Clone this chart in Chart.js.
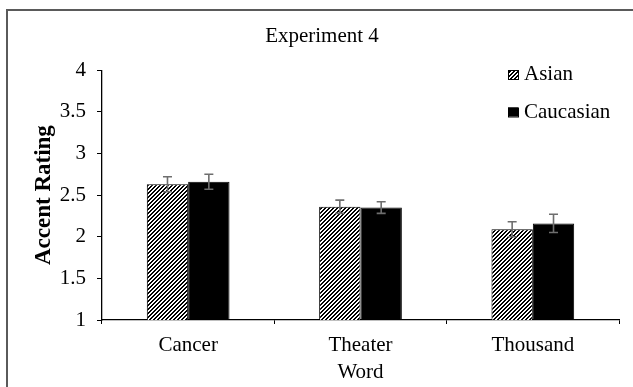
<!DOCTYPE html>
<html>
<head>
<meta charset="utf-8">
<script src="https://cdn.jsdelivr.net/npm/chart.js@4/dist/chart.umd.min.js"></script>
<style>
  html, body { margin: 0; padding: 0; background: #fff; overflow: hidden; }
  #wrap { position: relative; width: 633px; height: 387px; }
  #frame { position: absolute; left: 6px; top: 9px; width: 700px; height: 500px;
           border-top: 2px solid #5a5a5a; border-left: 2px solid #5a5a5a; }
  #chart { position: absolute; left: 0; top: 0; }
</style>
</head>
<body>
<div id="wrap">
  <div id="frame"></div>
  <canvas id="chart" width="633" height="387"></canvas>
</div>
<script>
// Mean accent ratings per word, with standard errors
const words = ['Cancer', 'Theater', 'Thousand'];
const asianMeans = [2.63, 2.36, 2.09];
const asianErrors = [0.09, 0.08, 0.09];
const caucasianMeans = [2.66, 2.35, 2.16];
const caucasianErrors = [0.09, 0.07, 0.11];
const yTicks = [1, 1.5, 2, 2.5, 3, 3.5, 4];
const yTickLabels = ['1', '1.5', '2', '2.5', '3', '3.5', '4'];

const SERIF = '"Liberation Serif", "Times New Roman", serif';

// Diagonal black/white hatch used for the Asian bars
function makeHatch() {
  const tile = document.createElement('canvas');
  tile.width = 4; tile.height = 4;
  const tctx = tile.getContext('2d');
  const img = tctx.createImageData(4, 4);
  for (let y = 0; y < 4; y++) {
    for (let x = 0; x < 4; x++) {
      const dark = ((x + y) % 4) < 2;
      const i = (y * 4 + x) * 4;
      const v = dark ? 0 : 255;
      img.data[i] = v; img.data[i + 1] = v; img.data[i + 2] = v; img.data[i + 3] = 255;
    }
  }
  tctx.putImageData(img, 0, 0);
  return document.getElementById('chart').getContext('2d').createPattern(tile, 'repeat');
}
const hatch = makeHatch();

const errorSets = [asianErrors, caucasianErrors];

// Error bars with caps, drawn over each bar
const errorBarPlugin = {
  id: 'errorBars',
  afterDatasetsDraw(chart) {
    const ctx = chart.ctx;
    const yScale = chart.scales.y;
    ctx.save();
    ctx.strokeStyle = '#6e6e6e';
    ctx.lineWidth = 1.6;
    chart.data.datasets.forEach((ds, di) => {
      const meta = chart.getDatasetMeta(di);
      meta.data.forEach((bar, i) => {
        const v = ds.data[i];
        const e = errorSets[di][i];
        const yTop = yScale.getPixelForValue(v + e);
        const yBot = yScale.getPixelForValue(v - e);
        const x = bar.x;
        const cap = 4.5;
        ctx.beginPath();
        ctx.moveTo(x, yTop); ctx.lineTo(x, yBot);
        ctx.moveTo(x - cap, yTop); ctx.lineTo(x + cap, yTop);
        ctx.moveTo(x - cap, yBot); ctx.lineTo(x + cap, yBot);
        ctx.stroke();
      });
    });
    ctx.restore();
  }
};

// Legend placed inside the upper right of the plot
const insideLegendPlugin = {
  id: 'insideLegend',
  afterDraw(chart) {
    const ctx = chart.ctx;
    ctx.save();
    ctx.font = '21px ' + SERIF;
    ctx.textBaseline = 'middle';
    ctx.textAlign = 'left';
    const x0 = 508;
    const rows = [74.5, 112];
    chart.data.datasets.forEach((ds, di) => {
      const cy = rows[di];
      ctx.fillStyle = ds.backgroundColor;
      ctx.fillRect(x0, cy - 4.5, 10, 9);
      ctx.strokeStyle = '#000';
      ctx.lineWidth = 1;
      ctx.strokeRect(x0 + 0.5, cy - 4.5 + 0.5, 10, 9);
      ctx.fillStyle = '#000';
      ctx.fillText(ds.label, x0 + 16, cy);
    });
    ctx.restore();
  }
};

new Chart(document.getElementById('chart'), {
  type: 'bar',
  data: {
    labels: words,
    datasets: [
      { label: 'Asian', data: asianMeans, backgroundColor: hatch,
        borderColor: '#000', borderWidth: 1, borderSkipped: false },
      { label: 'Caucasian', data: caucasianMeans, backgroundColor: '#000',
        borderColor: '#000', borderWidth: 1, borderSkipped: false }
    ]
  },
  options: {
    responsive: false,
    animation: false,
    events: [],
    layout: { padding: { left: 25, right: 14, top: 0, bottom: 0 } },
    datasets: { bar: { categoryPercentage: 0.48, barPercentage: 1.0 } },
    plugins: {
      legend: { display: false },
      tooltip: { enabled: false },
      title: {
        display: true,
        text: 'Experiment 4',
        color: '#000',
        font: { family: SERIF, size: 21, weight: 'normal' },
        padding: { top: 24, bottom: 21 }
      }
    },
    scales: {
      x: {
        grid: { display: true, drawOnChartArea: false, drawTicks: true,
                tickLength: 4, color: '#000', offset: true },
        border: { display: true, color: '#000', width: 1.3 },
        ticks: { color: '#000', padding: 9, font: { family: SERIF, size: 21 } },
        title: { display: true, text: 'Word', color: '#000',
                 font: { family: SERIF, size: 21 }, padding: { top: 0, bottom: 2 } },
        afterFit(scale) { scale.height = 67; }
      },
      y: {
        min: 1, max: 4,
        afterBuildTicks(scale) { scale.ticks = yTicks.map(v => ({ value: v })); },
        grid: { display: true, drawOnChartArea: false, drawTicks: true,
                tickLength: 5, color: '#000' },
        border: { display: true, color: '#000', width: 1.3 },
        ticks: {
          color: '#000', padding: 11, font: { family: SERIF, size: 21 },
          callback: (value) => yTickLabels[yTicks.indexOf(value)]
        },
        title: { display: true, text: 'Accent Rating', color: '#000',
                 font: { family: SERIF, size: 23, weight: 'bold' },
                 padding: { top: 5, bottom: 0 } },
        afterFit(scale) { scale.width = 77; }
      }
    }
  },
  plugins: [errorBarPlugin, insideLegendPlugin]
});
</script>
</body>
</html>
